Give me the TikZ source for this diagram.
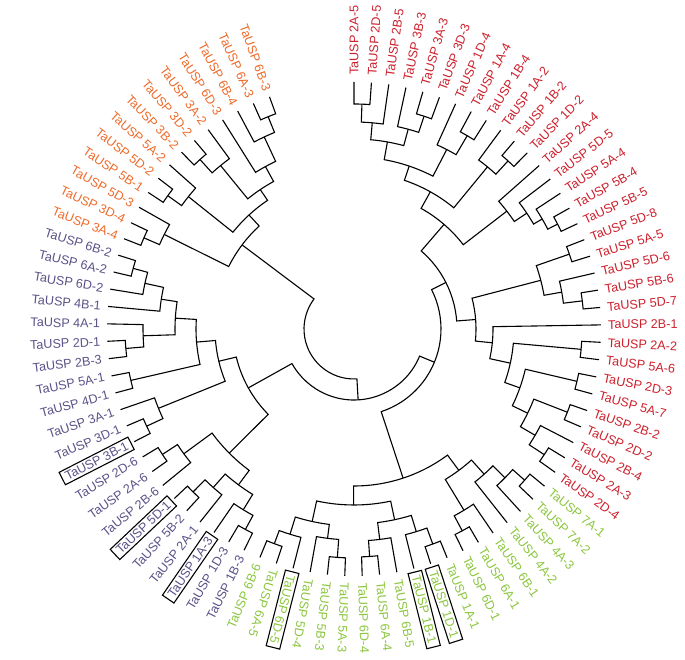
\documentclass[tikz,border=0pt]{standalone}
\usepackage{fontspec}
\setmainfont{Liberation Sans}
\definecolor{tred}{RGB}{204,32,44}
\definecolor{torange}{RGB}{238,106,42}
\definecolor{tpurple}{RGB}{92,80,136}
\definecolor{tgreen}{RGB}{140,198,63}
\tikzset{
  br/.style={line width=1.1pt, line join=miter, black},
  lab/.style={font=\fontsize{12.6}{15}\selectfont, inner xsep=2pt, inner ysep=2pt},
  boxlab/.style={lab, draw=black, line width=1.1pt, inner xsep=4pt, inner ysep=2.5pt}
}
% leaf: index, name, colour
\newcommand\lf[3]{%
  \pgfmathsetmacro\la{90-(#1)*4.047619}%
  \expandafter\xdef\csname An#2\endcsname{\la}%
  \expandafter\xdef\csname Rn#2\endcsname{247}%
  \ifnum#1<50\relax
    \node[lab,text=#3,rotate=\la,anchor=west] (l#1) at (\la:252) {TaUSP #2};
  \else
    \pgfmathsetmacro\lb{\la+180}%
    \node[lab,text=#3,rotate=\lb,anchor=east] (l#1) at (\la:252) {TaUSP #2};
  \fi}
% boxed leaf
\newcommand\lfb[3]{%
  \pgfmathsetmacro\la{90-(#1)*4.047619}%
  \expandafter\xdef\csname An#2\endcsname{\la}%
  \expandafter\xdef\csname Rn#2\endcsname{247}%
  \ifnum#1<50\relax
    \node[boxlab,text=#3,rotate=\la,anchor=west] (l#1) at (\la:250) {TaUSP #2};
  \else
    \pgfmathsetmacro\lb{\la+180}%
    \node[boxlab,text=#3,rotate=\lb,anchor=east] (l#1) at (\la:250) {TaUSP #2};
  \fi}
% internal node: name, child1, child2, radius
\newcommand\nd[4]{%
  \edef\ca{\csname An#2\endcsname}\edef\cb{\csname An#3\endcsname}%
  \edef\ra{\csname Rn#2\endcsname}\edef\rb{\csname Rn#3\endcsname}%
  \draw[br] (\ca:\ra) -- (\ca:#4) arc[start angle=\ca, end angle=\cb, radius=#4pt] -- (\cb:\rb);
  \pgfmathsetmacro\tmpa{(\ca+\cb)/2}%
  \expandafter\xdef\csname An#1\endcsname{\tmpa}%
  \expandafter\xdef\csname Rn#1\endcsname{#4}}
\begin{document}
\begin{tikzpicture}[x=1pt,y=1pt]
\useasboundingbox (0,0) rectangle (685,660);
\begin{scope}[shift={(354,331)}]
% ---- leaves ----
\lf{0}{2A-5}{tred}\lf{1}{2D-5}{tred}\lf{2}{2B-5}{tred}\lf{3}{3B-3}{tred}
\lf{4}{3A-3}{tred}\lf{5}{3D-3}{tred}\lf{6}{1D-4}{tred}\lf{7}{1A-4}{tred}
\lf{8}{1B-4}{tred}\lf{9}{1A-2}{tred}\lf{10}{1B-2}{tred}\lf{11}{1D-2}{tred}
\lf{12}{2A-4}{tred}\lf{13}{5D-5}{tred}\lf{14}{5A-4}{tred}\lf{15}{5B-4}{tred}
\lf{16}{5B-5}{tred}\lf{17}{5D-8}{tred}\lf{18}{5A-5}{tred}\lf{19}{5D-6}{tred}
\lf{20}{5B-6}{tred}\lf{21}{5D-7}{tred}\lf{22}{2B-1}{tred}\lf{23}{2A-2}{tred}
\lf{24}{5A-6}{tred}\lf{25}{2D-3}{tred}\lf{26}{5A-7}{tred}\lf{27}{2B-2}{tred}
\lf{28}{2D-2}{tred}\lf{29}{2B-4}{tred}\lf{30}{2A-3}{tred}\lf{31}{2D-4}{tred}
\lf{32}{7A-1}{tgreen}\lf{33}{7A-2}{tgreen}\lf{34}{4A-3}{tgreen}\lf{35}{4A-2}{tgreen}
\lf{36}{6B-1}{tgreen}\lf{37}{6A-1}{tgreen}\lf{38}{6D-1}{tgreen}\lf{39}{1A-1}{tgreen}
\lfb{40}{1D-1}{tgreen}\lfb{41}{1B-1}{tgreen}\lf{42}{6B-5}{tgreen}\lf{43}{6A-4}{tgreen}
\lf{44}{6D-4}{tgreen}\lf{45}{5A-3}{tgreen}\lf{46}{5B-3}{tgreen}\lf{47}{5D-4}{tgreen}
\lfb{48}{6D-5}{tgreen}\lf{49}{6A-5}{tgreen}\lf{50}{6B-6}{tgreen}
\lf{51}{1B-3}{tpurple}\lf{52}{1D-3}{tpurple}\lfb{53}{1A-3}{tpurple}\lf{54}{2A-1}{tpurple}
\lf{55}{5B-2}{tpurple}\lfb{56}{5D-1}{tpurple}\lf{57}{2B-6}{tpurple}\lf{58}{2A-6}{tpurple}
\lf{59}{2D-6}{tpurple}\lfb{60}{3B-1}{tpurple}\lf{61}{3D-1}{tpurple}\lf{62}{3A-1}{tpurple}
\lf{63}{4D-1}{tpurple}\lf{64}{5A-1}{tpurple}\lf{65}{2B-3}{tpurple}\lf{66}{2D-1}{tpurple}
\lf{67}{4A-1}{tpurple}\lf{68}{4B-1}{tpurple}\lf{69}{6D-2}{tpurple}\lf{70}{6A-2}{tpurple}
\lf{71}{6B-2}{tpurple}
\lf{72}{3A-4}{torange}\lf{73}{3D-4}{torange}\lf{74}{5D-3}{torange}\lf{75}{5B-1}{torange}
\lf{76}{5D-2}{torange}\lf{77}{5A-2}{torange}\lf{78}{3B-2}{torange}\lf{79}{3D-2}{torange}
\lf{80}{3A-2}{torange}\lf{81}{6D-3}{torange}\lf{82}{6B-4}{torange}\lf{83}{6A-3}{torange}
\lf{84}{6B-3}{torange}
% ---- red clade ----
\nd{a}{2A-5}{2D-5}{225}
\nd{b}{a}{2B-5}{207}
\nd{c}{3A-3}{3D-3}{224}
\nd{d}{3B-3}{c}{207}
\nd{e}{b}{d}{190}
\nd{f}{1A-4}{1B-4}{224}
\nd{g}{1D-4}{f}{202}
\nd{h}{e}{g}{172}
\nd{i}{1B-2}{1D-2}{228}
\nd{j}{1A-2}{i}{210}
\nd{k}{h}{j}{157}
\nd{Z}{5B-4}{5B-5}{229}
\nd{Y}{5A-4}{Z}{218}
\nd{X}{5D-5}{Y}{208}
\nd{o}{2A-4}{X}{193}
\nd{RA}{k}{o}{138}
\nd{p}{5D-8}{5A-5}{228}
\nd{q}{5B-6}{5D-7}{230}
\nd{s}{5D-6}{q}{211}
\nd{RBa}{p}{s}{193}
\nd{u}{2A-2}{5A-6}{228}
\nd{v1}{2D-3}{5A-7}{229}
\nd{v2}{2B-2}{2D-2}{229}
\nd{w3}{2A-3}{2D-4}{228}
\nd{V2}{2B-4}{w3}{210}
\nd{V1}{v2}{V2}{193}
\nd{V}{v1}{V1}{176}
\nd{W}{u}{V}{160}
\nd{RBb}{2B-1}{W}{139}
\nd{RB}{RBa}{RBb}{122}
\nd{Red}{RA}{RB}{103}
% ---- green clade ----
\nd{B2}{7A-1}{7A-2}{228}
\nd{B1}{4A-3}{B2}{212}
\nd{B}{4A-2}{B1}{195}
\nd{z3}{6A-1}{6D-1}{229}
\nd{A}{6B-1}{z3}{212}
\nd{G2}{A}{B}{176}
\nd{z1}{1A-1}{1D-1}{229}
\nd{z2}{z1}{1B-1}{212}
\nd{y1}{6A-4}{6D-4}{228}
\nd{y2}{6B-5}{y1}{212}
\nd{G1b}{z2}{y2}{195}
\nd{x4}{5A-3}{5B-3}{229}
\nd{x3}{x4}{5D-4}{211}
\nd{x1}{6A-5}{6B-6}{229}
\nd{x2}{6D-5}{x1}{215}
\nd{G1a}{x3}{x2}{197}
\nd{G1}{G1b}{G1a}{176}
\nd{G}{G2}{G1}{157}
\nd{RG}{Red}{G}{87}
% ---- purple clade ----
\nd{pl1}{1D-3}{1B-3}{228}
\nd{PL1b}{1A-3}{pl1}{212}
\nd{pl2}{5B-2}{5D-1}{229}
\nd{PL1a}{2A-1}{pl2}{212}
\nd{PL1}{PL1b}{PL1a}{194}
\nd{pl3}{2A-6}{2D-6}{229}
\nd{PL2}{2B-6}{pl3}{211}
\nd{PL}{PL1}{PL2}{176}
\nd{q1}{3B-1}{3D-1}{229}
\nd{Q1}{q1}{3A-1}{211}
\nd{PUp}{4D-1}{5A-1}{229}
\nd{pu1}{2B-3}{2D-1}{229}
\nd{PUb}{pu1}{4A-1}{211}
\nd{pu2}{6A-2}{6B-2}{229}
\nd{pu3}{6D-2}{pu2}{214}
\nd{PUa}{4B-1}{pu3}{195}
\nd{PUu}{PUb}{PUa}{179}
\nd{PU}{PUp}{PUu}{158}
\nd{PQ}{Q1}{PU}{139}
\nd{P}{PL}{PQ}{121}
\nd{N72}{RG}{P}{71}
% ---- orange clade ----
\nd{o1}{3A-4}{3D-4}{229}
\nd{O1}{o1}{5D-3}{212}
\nd{o2}{5B-1}{5D-2}{229}
\nd{O2d}{o2}{5A-2}{212}
\nd{o3}{3B-2}{3D-2}{229}
\nd{O2a}{o3}{3A-2}{211}
\nd{o4}{6A-3}{6B-3}{229}
\nd{o5}{6B-4}{o4}{212}
\nd{O2b}{6D-3}{o5}{185}
\nd{O2c}{O2a}{O2b}{168}
\nd{O2}{O2d}{O2c}{155}
\nd{UL}{O1}{O2}{140}
\nd{root}{N72}{UL}{50}
\end{scope}
\end{tikzpicture}
\end{document}
